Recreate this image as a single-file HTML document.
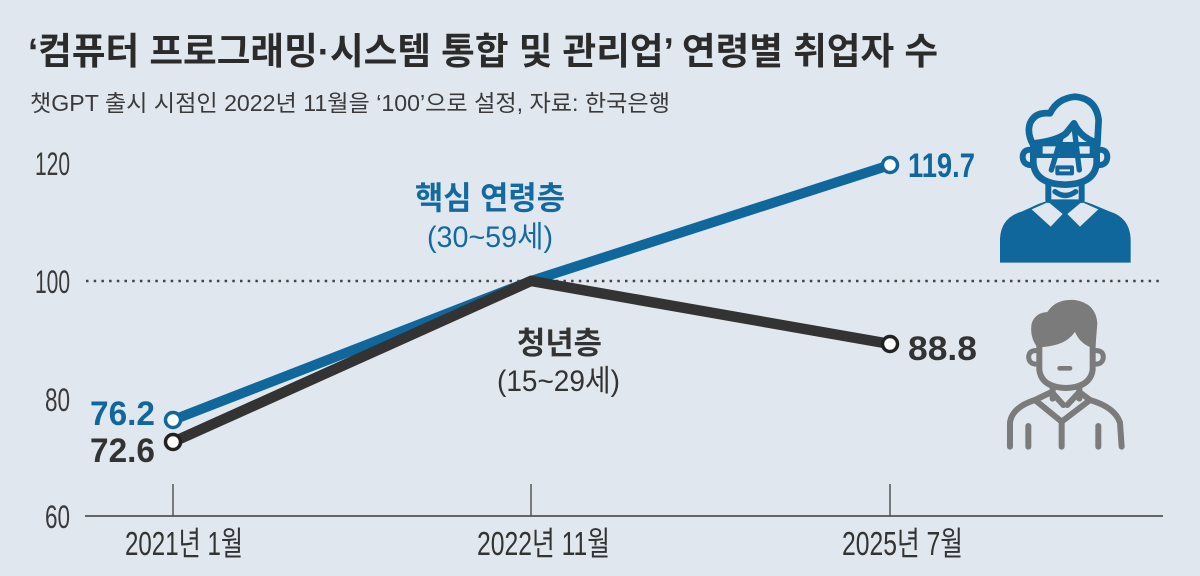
<!DOCTYPE html>
<html><head><meta charset="utf-8"><style>
html,body{margin:0;padding:0;background:#e1e7ee;}
svg{display:block;}
text{font-family:"Liberation Sans","Noto Sans CJK KR",sans-serif;}
</style></head><body>
<svg width="1200" height="576" viewBox="0 0 1200 576" xmlns="http://www.w3.org/2000/svg">
<rect width="1200" height="576" fill="#e1e7ee"/>
<text x="28" y="64" font-size="37" font-weight="bold" fill="#2b2b2b" textLength="910" lengthAdjust="spacingAndGlyphs">‘컴퓨터 프로그래밍·시스템 통합 및 관리업’ 연령별 취업자 수</text>
<text x="30" y="111" font-size="23" fill="#3a3a3a" textLength="640" lengthAdjust="spacingAndGlyphs">챗GPT 출시 시점인 2022년 11월을 ‘100’으로 설정, 자료: 한국은행</text>

<!-- y labels -->
<g font-size="32" fill="#3a3a3a" text-anchor="end">
<text x="70" y="175" textLength="35" lengthAdjust="spacingAndGlyphs">120</text>
<text x="70" y="293" textLength="35" lengthAdjust="spacingAndGlyphs">100</text>
<text x="70" y="411" textLength="25" lengthAdjust="spacingAndGlyphs">80</text>
<text x="70" y="528" textLength="25" lengthAdjust="spacingAndGlyphs">60</text>
</g>

<!-- dotted 100 line -->
<line x1="86" y1="281" x2="1163" y2="281" stroke="#444" stroke-width="2.5" stroke-dasharray="2.5 5.2"/>
<!-- baseline & ticks -->
<line x1="85" y1="516" x2="1163" y2="516" stroke="#666" stroke-width="2"/>
<g stroke="#555" stroke-width="1.5">
<line x1="173" y1="484" x2="173" y2="516"/>
<line x1="531" y1="484" x2="531" y2="516"/>
<line x1="890" y1="484" x2="890" y2="516"/>
</g>
<g font-size="33" fill="#333">
<text x="125" y="555" textLength="118" lengthAdjust="spacingAndGlyphs">2021년 1월</text>
<text x="477" y="555" textLength="133" lengthAdjust="spacingAndGlyphs">2022년 11월</text>
<text x="842" y="555" textLength="121" lengthAdjust="spacingAndGlyphs">2025년 7월</text>
</g>

<!-- series -->
<polyline points="173,420 531,281 890,165" fill="none" stroke="#10679c" stroke-width="10"/>
<polyline points="173,442 531,281 890,344" fill="none" stroke="#333333" stroke-width="10.5"/>
<circle cx="173" cy="420" r="7.5" fill="#fff" stroke="#10679c" stroke-width="3.5"/>
<circle cx="890" cy="165" r="7.5" fill="#fff" stroke="#10679c" stroke-width="3.5"/>
<circle cx="173" cy="442" r="7.5" fill="#fff" stroke="#222" stroke-width="3.5"/>
<circle cx="890" cy="344" r="7.5" fill="#fff" stroke="#222" stroke-width="3.5"/>

<!-- value labels -->
<g font-size="34" font-weight="bold">
<text x="90" y="425" fill="#10679c" textLength="65" lengthAdjust="spacingAndGlyphs">76.2</text>
<text x="90" y="462" fill="#333" textLength="65" lengthAdjust="spacingAndGlyphs">72.6</text>
<text x="908" y="177" fill="#10679c" textLength="67" lengthAdjust="spacingAndGlyphs">119.7</text>
<text x="908" y="360" fill="#333" textLength="69" lengthAdjust="spacingAndGlyphs">88.8</text>
</g>

<!-- series labels -->
<text x="415" y="209" font-size="32" font-weight="bold" fill="#136aa0" textLength="150" lengthAdjust="spacingAndGlyphs">핵심 연령층</text>
<text x="427" y="247" font-size="30" fill="#136aa0" textLength="126" lengthAdjust="spacingAndGlyphs">(30~59세)</text>
<text x="517" y="354" font-size="31" font-weight="bold" fill="#333" textLength="85" lengthAdjust="spacingAndGlyphs">청년층</text>
<text x="497" y="391" font-size="30" fill="#333" textLength="123" lengthAdjust="spacingAndGlyphs">(15~29세)</text>

<!-- blue person icon -->
<g transform="translate(980,80) scale(0.3333)" fill="none" stroke="#10679c" stroke-linecap="round" stroke-linejoin="round">
<path d="M60,548 L60,475 Q64,412 125,395 L175,372 L215,358 L295,358 L335,372 L390,395 Q448,413 452,475 L452,548 Z" fill="#10679c" stroke="none"/>
<polygon points="155,388 205,366 248,402 212,440" fill="#e1e7ee" stroke="none"/>
<polygon points="262,402 305,366 355,388 300,440" fill="#e1e7ee" stroke="none"/>
<path d="M160,200 L160,250 Q166,312 255,314 Q344,312 350,250 L350,200" stroke-width="20"/>
<path d="M160,195 Q140,160 150,130 Q165,95 210,100 Q232,55 285,50 Q348,55 356,120 L352,195" stroke-width="20"/>
<path d="M162,190 Q230,182 258,160 L282,130 Q302,172 345,186" stroke-width="20"/>
<path d="M160,210 Q128,205 128,232 Q130,258 160,255" stroke-width="18"/>
<path d="M350,210 Q382,205 382,232 Q380,258 350,255" stroke-width="18"/>
<rect x="165" y="186" width="185" height="48" fill="#10679c" stroke="none"/>
<rect x="188" y="199" width="50" height="22" fill="#e1e7ee" stroke="none"/>
<rect x="285" y="199" width="44" height="22" fill="#e1e7ee" stroke="none"/>
<path d="M245,168 L214,270" stroke-width="16"/>
<path d="M282,140 L298,270" stroke-width="16"/>
<rect x="232" y="262" width="44" height="18" stroke-width="12"/>
<path d="M205,305 L205,360" stroke-width="18"/>
<path d="M305,305 L305,360" stroke-width="18"/>
<path d="M225,335 Q256,358 287,335" stroke-width="16"/>
</g>

<!-- gray person icon -->
<g transform="translate(980,290) scale(0.3333)" fill="none" stroke="#7b7b7b" stroke-width="18" stroke-linecap="round" stroke-linejoin="round">
<path d="M172,172 Q148,140 155,100 Q166,68 202,66 Q228,25 285,30 Q348,40 352,100 L346,176 Q302,166 285,126 Q266,152 236,162 Q202,172 172,172 Z" fill="#7b7b7b" stroke="none"/>
<path d="M178,150 L178,240 Q185,292 258,294 Q330,292 338,240 L338,150"/>
<path d="M178,182 Q146,178 146,202 Q148,226 178,222" stroke-width="15"/>
<path d="M338,182 Q370,178 370,202 Q368,226 338,222" stroke-width="15"/>
<rect x="232" y="228" width="45" height="14" rx="7" fill="#7b7b7b" stroke="none"/>
<path d="M218,292 L218,326"/>
<path d="M298,292 L298,326"/>
<path d="M90,470 L90,398 Q96,352 165,330 L245,395 L330,330 Q405,352 420,398 L425,470"/>
<path d="M165,330 L215,306 L250,345"/>
<path d="M330,330 L298,306 L262,345"/>
<path d="M145,408 L145,470"/>
<path d="M245,395 L245,470"/>
<path d="M355,408 L355,470"/>
</g>
</svg>
</body></html>
